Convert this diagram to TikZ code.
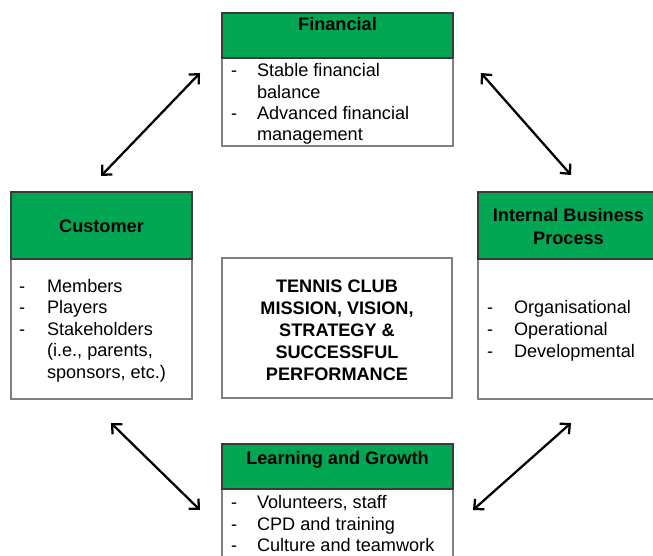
\documentclass[tikz,border=0pt]{standalone}
\usepackage{fontspec}
\setmainfont{Liberation Sans}
\usetikzlibrary{arrows.meta}
\definecolor{boxgreen}{HTML}{00A651}
\definecolor{edgegray}{HTML}{808080}
\definecolor{headline}{HTML}{3A3A3A}

\begin{document}
\begin{tikzpicture}[x=0.75pt,y=-0.75pt,
  every node/.style={inner sep=0pt, outer sep=0pt},
  panel/.style={draw=edgegray, line width=0.8pt, fill=white, anchor=north west, rectangle},
  header/.style={draw=headline, line width=0.8pt, fill=boxgreen, anchor=north west, rectangle},
  txt/.style={font=\fontsize{13.6}{16.1}\selectfont, anchor=base west},
  head/.style={font=\fontsize{13.6}{16.1}\selectfont\bfseries, anchor=base},
  duo/.style={{Straight Barb[length=5.5pt,width=10.5pt]}-{Straight Barb[length=5.5pt,width=10.5pt]}, line width=1.7pt, black}
]
\useasboundingbox (0,0) rectangle (653,556);

% ---------- Financial ----------
\node[panel, minimum width=173.25pt, minimum height=66pt] (finbody) at (222,58) {};
\node[header, minimum width=173.25pt, minimum height=33.75pt] (finhead) at (222,13) {};
\node[head] (fint) at (337.5,31) {Financial};
\node[txt] (f1d) at (231,77) {-};
\node[txt] (f1) at (257,77) {Stable financial};
\node[txt] (f2) at (257,98.5) {balance};
\node[txt] (f3d) at (231,120) {-};
\node[txt] (f3) at (257,120) {Advanced financial};
\node[txt] (f4) at (257,141) {management};

% ---------- Customer ----------
\node[panel, minimum width=135.75pt, minimum height=105pt] (cusbody) at (11,259) {};
\node[header, minimum width=135.75pt, minimum height=50.25pt] (cushead) at (11,192) {};
\node[head] (cust) at (101.5,233) {Customer};
\node[txt] (c1d) at (19,292) {-};
\node[txt] (c1) at (47,292) {Members};
\node[txt] (c2d) at (19,313.5) {-};
\node[txt] (c2) at (47,313.5) {Players};
\node[txt] (c3d) at (19,335) {-};
\node[txt] (c3) at (47,335) {Stakeholders};
\node[txt] (c4) at (47,356.5) {(i.e., parents,};
\node[txt] (c5) at (47,378) {sponsors, etc.)};

% ---------- Mission (centre) ----------
\node[panel, minimum width=172.5pt, minimum height=105pt] (core) at (222,258) {};
\node[head] (m1) at (337,292) {TENNIS CLUB};
\node[head] (m2) at (337,314) {MISSION, VISION,};
\node[head] (m3) at (337,336) {STRATEGY \&};
\node[head] (m4) at (337,358) {SUCCESSFUL};
\node[head] (m5) at (337,380) {PERFORMANCE};

% ---------- Internal Business Process ----------
\node[panel, minimum width=135.75pt, minimum height=105pt] (ibpbody) at (478,259) {};
\node[header, minimum width=135.75pt, minimum height=50.25pt] (ibphead) at (478,192) {};
\node[head] (ibt1) at (568.5,221) {Internal Business};
\node[head] (ibt2) at (568.5,244) {Process};
\node[txt] (i1d) at (487,313) {-};
\node[txt] (i1) at (514,313) {Organisational};
\node[txt] (i2d) at (487,335.5) {-};
\node[txt] (i2) at (514,335.5) {Operational};
\node[txt] (i3d) at (487,357.5) {-};
\node[txt] (i3) at (514,357.5) {Developmental};

% ---------- Learning and Growth ----------
\node[panel, minimum width=173.25pt, minimum height=63pt] (lgbody) at (222,489) {};
\node[header, minimum width=173.25pt, minimum height=33.75pt] (lghead) at (222,444) {};
\node[head] (lgt) at (337.5,464) {Learning and Growth};
\node[txt] (l1d) at (231,508.5) {-};
\node[txt] (l1) at (257,508.5) {Volunteers, staff};
\node[txt] (l2d) at (231,530) {-};
\node[txt] (l2) at (257,530) {CPD and training};
\node[txt] (l3d) at (231,551.5) {-};
\node[txt] (l3) at (257,551.5) {Culture and teamwork};

% ---------- two-way links ----------
\coordinate (tlA) at (200,73);
\coordinate (tlB) at (101,176);
\coordinate (trA) at (481,73);
\coordinate (trB) at (571,175);
\coordinate (blA) at (111,423);
\coordinate (blB) at (200,510);
\coordinate (brA) at (571,423);
\coordinate (brB) at (473,510);
\draw[duo] (tlA) -- (tlB);
\draw[duo] (trA) -- (trB);
\draw[duo] (blA) -- (blB);
\draw[duo] (brA) -- (brB);
\end{tikzpicture}
\end{document}
